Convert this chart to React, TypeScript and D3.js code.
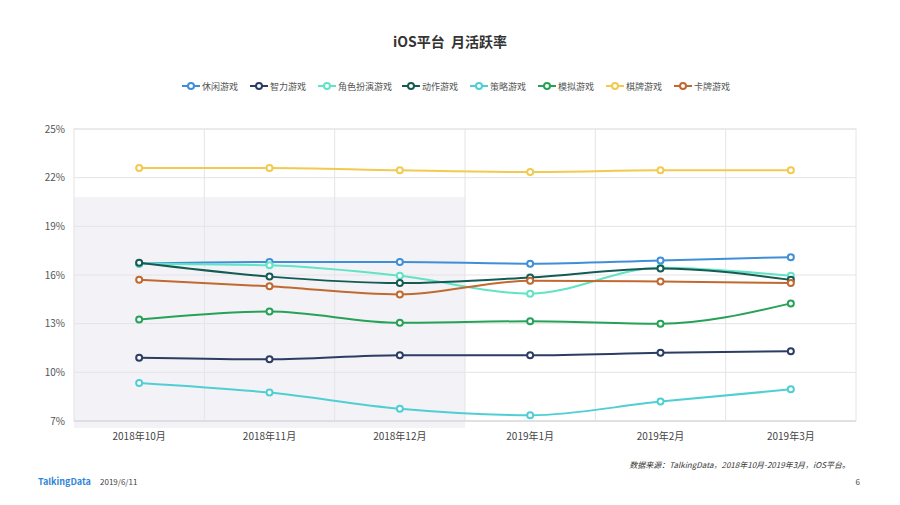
import React, { useEffect, useRef } from 'react';
import * as d3 from 'd3';

const months = ['2018年10月', '2018年11月', '2018年12月', '2019年1月', '2019年2月', '2019年3月'];
const yTicks = [7, 10, 13, 16, 19, 22, 25];

const seriesNames = ['休闲游戏', '智力游戏', '角色扮演游戏', '动作游戏', '策略游戏', '模拟游戏', '棋牌游戏', '卡牌游戏'];
const seriesColors = ['#3f8fd8', '#2c3d63', '#62e3c4', '#155b53', '#4fcfd4', '#25a257', '#f1ca4f', '#c1692f'];

const casual = [16.7, 16.8, 16.8, 16.7, 16.9, 17.1];
const puzzle = [10.9, 10.8, 11.05, 11.05, 11.2, 11.3];
const rpg = [16.7, 16.6, 15.95, 14.85, 16.45, 15.95];
const action = [16.75, 15.9, 15.5, 15.85, 16.4, 15.7];
const strategy = [9.35, 8.75, 7.75, 7.35, 8.2, 8.95];
const simulation = [13.25, 13.75, 13.05, 13.15, 13.0, 14.25];
const chess = [22.6, 22.6, 22.45, 22.35, 22.45, 22.45];
const card = [15.7, 15.3, 14.8, 15.65, 15.6, 15.5];

const seriesValues = [casual, puzzle, rpg, action, strategy, simulation, chess, card];

const App = () => {
  const ref = useRef<SVGSVGElement>(null);

  useEffect(() => {
    const svg = d3.select(ref.current);
    svg.selectAll('*').remove();
    const font = '"Noto Sans CJK SC", "Noto Sans", sans-serif';

    const left = 74, right = 856, top = 129, bottom = 421;

    const x = d3.scaleBand().domain(months).range([left, right]);
    const y = d3.scaleLinear().domain([7, 25]).range([bottom, top]);
    const cx = (m: string) => (x(m) as number) + x.bandwidth() / 2;

    svg.append('rect').attr('width', 900).attr('height', 505).attr('fill', '#fff');

    // shaded highlight region
    svg.append('rect')
      .attr('x', left).attr('y', 197)
      .attr('width', (x(months[3]) as number) - left)
      .attr('height', 428 - 197)
      .attr('fill', '#f3f2f6');

    // title
    svg.append('text')
      .attr('x', 450).attr('y', 47)
      .attr('text-anchor', 'middle')
      .attr('font-family', font).attr('font-size', 14).attr('font-weight', 'bold')
      .attr('fill', '#333')
      .text('iOS平台\u00a0\u00a0月活跃率');

    // grid
    svg.append('g').selectAll('line').data(yTicks).enter().append('line')
      .attr('x1', left).attr('x2', right)
      .attr('y1', d => y(d)).attr('y2', d => y(d))
      .attr('stroke', '#e4e4e8').attr('stroke-width', 1);

    svg.append('g').selectAll('line').data(months.slice(1)).enter().append('line')
      .attr('x1', d => x(d) as number).attr('x2', d => x(d) as number)
      .attr('y1', top).attr('y2', bottom)
      .attr('stroke', '#e4e4e8').attr('stroke-width', 1);

    svg.append('rect')
      .attr('x', left).attr('y', top).attr('width', right - left).attr('height', bottom - top)
      .attr('fill', 'none').attr('stroke', '#e4e4e8');

    svg.append('line')
      .attr('x1', left).attr('x2', right).attr('y1', bottom).attr('y2', bottom)
      .attr('stroke', '#d6d6da');

    // y labels
    svg.append('g').selectAll('text').data(yTicks).enter().append('text')
      .attr('x', 65).attr('y', d => y(d) + 3.5)
      .attr('text-anchor', 'end')
      .attr('font-family', font).attr('font-size', 10).attr('fill', '#555')
      .text(d => d + '%');

    // x labels
    svg.append('g').selectAll('text').data(months).enter().append('text')
      .attr('x', d => cx(d)).attr('y', 440)
      .attr('text-anchor', 'middle')
      .attr('font-family', font).attr('font-size', 10).attr('fill', '#444')
      .text(d => d);

    // lines
    const line = d3.line<number>()
      .x((d, i) => cx(months[i]))
      .y(d => y(d))
      .curve(d3.curveMonotoneX);

    seriesValues.forEach((vals, s) => {
      const g = svg.append('g');
      g.append('path')
        .attr('d', line(vals))
        .attr('fill', 'none')
        .attr('stroke', seriesColors[s])
        .attr('stroke-width', 2);
      g.selectAll('circle').data(vals).enter().append('circle')
        .attr('cx', (d, i) => cx(months[i]))
        .attr('cy', d => y(d))
        .attr('r', 3)
        .attr('fill', '#fff')
        .attr('stroke', seriesColors[s])
        .attr('stroke-width', 2);
    });

    // legend
    let lx = 182;
    seriesNames.forEach((name, s) => {
      const g = svg.append('g').attr('transform', `translate(${lx},86)`);
      g.append('line').attr('x1', 0).attr('x2', 18).attr('y1', 0).attr('y2', 0)
        .attr('stroke', seriesColors[s]).attr('stroke-width', 2);
      g.append('circle').attr('cx', 9).attr('cy', 0).attr('r', 3)
        .attr('fill', '#fff').attr('stroke', seriesColors[s]).attr('stroke-width', 2);
      g.append('text').attr('x', 20).attr('y', 3.5)
        .attr('font-family', font).attr('font-size', 9).attr('fill', '#555')
        .text(name);
      lx += 36 + name.length * 8;
    });

    // footer
    svg.append('text')
      .attr('x', 850).attr('y', 468)
      .attr('text-anchor', 'end')
      .attr('font-family', font).attr('font-size', 8).attr('font-style', 'italic')
      .attr('fill', '#333')
      .text('数据来源：TalkingData，2018年10月-2019年3月，iOS平台。');

    svg.append('text')
      .attr('x', 38).attr('y', 485)
      .attr('font-family', font).attr('font-size', 9).attr('font-weight', 'bold')
      .attr('fill', '#2f86d8')
      .text('TalkingData');

    svg.append('text')
      .attr('x', 100).attr('y', 485)
      .attr('font-family', font).attr('font-size', 8).attr('fill', '#444')
      .text('2019/6/11');

    svg.append('text')
      .attr('x', 860).attr('y', 485)
      .attr('text-anchor', 'end')
      .attr('font-family', font).attr('font-size', 8).attr('fill', '#444')
      .text('6');
  }, []);

  return (
    <svg ref={ref} width={900} height={505}
      style={{ position: 'absolute', left: 0, top: 0, display: 'block' }} />
  );
};

export default App;
